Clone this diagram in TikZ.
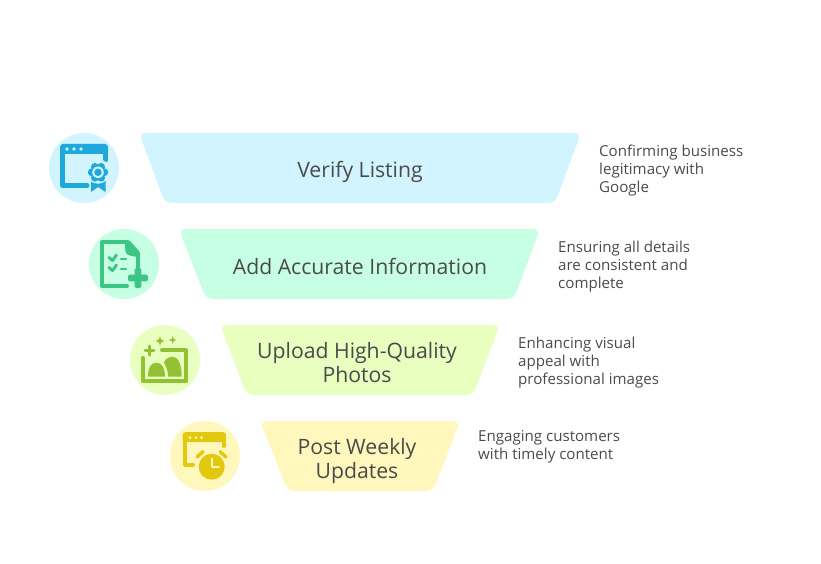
\documentclass[tikz,border=0pt]{standalone}
\usetikzlibrary{calc}
\usepackage{fontspec}
\setmainfont{Open Sans}
\definecolor{txt}{HTML}{4A4A4A}
\definecolor{cA}{HTML}{D1F4FF}\definecolor{iA}{HTML}{1FA8DC}
\definecolor{cB}{HTML}{C7FFE5}\definecolor{iB}{HTML}{3CC583}
\definecolor{cC}{HTML}{E8FFBF}\definecolor{iC}{HTML}{92C233}
\definecolor{cD}{HTML}{FFF7BC}\definecolor{iD}{HTML}{E2C90F}
\tikzset{
 title/.style={text=txt,font=\fontsize{21.2}{24}\selectfont,align=center,anchor=center,inner sep=0pt},
 note/.style={text=txt,font=\fontsize{15.1}{18}\selectfont,align=left,anchor=north west,inner sep=0pt},
 band/.style={rounded corners=7pt},
 ln/.style={line width=5pt,line cap=round,line join=round},
 th/.style={line width=3pt,line cap=round,line join=round},
}
\begin{document}
\begin{tikzpicture}[x=1pt,y=-1pt]
\useasboundingbox (0,0) rectangle (821,564);
% bands
\fill[cA,band] (139,133) -- (581,133) -- (555,203) -- (165,203) -- cycle;
\fill[cB,band] (179,229) -- (540,229) -- (514,299) -- (206,299) -- cycle;
\fill[cC,band] (220,325) -- (500,325) -- (473,395) -- (247,395) -- cycle;
\fill[cD,band] (260,421) -- (460,421) -- (433,491) -- (288,491) -- cycle;
% circles
\fill[cA] (84,168) circle (35);
\fill[cB] (124,264) circle (35);
\fill[cC] (165,360) circle (35);
\fill[cD] (205,456) circle (35);
% labels
\node[title] (t1) at (360,171.5) {Verify Listing};
\node[title] (t2) at (360,266) {Add Accurate Information};
\node[title] (t3) at (357,362.5) {Upload High-Quality\\[0pt]Photos};
\node[title] (t4) at (357,460.5) {Post Weekly\\[0pt]Updates};
\node[note] (n1) at (599,144.5) {Confirming business\\legitimacy with\\Google};
\node[note] (n2) at (558,240.5) {Ensuring all details\\are consistent and\\complete};
\node[note] (n3) at (518,336.5) {Enhancing visual\\appeal with\\professional images};
\node[note] (n4) at (478,430) {Engaging customers\\with timely content};
% icon 1
\draw[iA,ln] (105.5,160) -- (105.5,148) -- (62.5,148) -- (62.5,185.5) -- (87,185.5);
\fill[iA,rounded corners=3pt] (60,144) rectangle (108,154);
\foreach \x in {67,74,81}\fill[cA] (\x,149) circle (1.9);
\fill[cA] (98,172.3) circle (13);
\fill[iA] (91,178) -- (105.5,178) -- (105.5,192) -- (98.2,187) -- (91,192) -- cycle;
\fill[cA] (98,172.3) circle (11.5);
\foreach \a in {0,60,...,300}\fill[iA] ($(98,172.3)+(\a:6.3)$) circle (3.9);
\fill[cA] (98,172.3) circle (5.8);
\fill[iA] (98,172.3) circle (3.7);
% icon 2
\draw[iB,line width=4pt,line cap=round,line join=round] (127,242) -- (102,242) -- (102,286) -- (127,286);
\draw[iB,line width=4pt,line cap=round] (138,268) -- (138,254);
\fill[iB,rounded corners=1.5pt] (125,240) -- (129,240) -- (140,252) -- (140,256.5) -- (133,256.5) -- (126,254) -- (125,248) -- cycle;
\foreach \y in {258,268}{
 \draw[iB,th] (109,\y-0.5) -- (112.5,\y+2.5) -- (116.5,\y-3);
 \draw[iB,th,line width=2.6pt] (121,\y+1) -- (126,\y+1);}
\fill[iB,rounded corners=1.5pt] (128,274.6) rectangle (148,281.4);
\fill[iB,rounded corners=1.5pt] (134.6,268) rectangle (141.4,288);
% icon 3
\draw[iC,line width=4pt,line cap=round,line join=round] (162,350) -- (186,350) -- (186,381) -- (143,381) -- (143,358);
\fill[iC] (148,376.7) .. controls (148,366) and (152,362.7) .. (156.5,362.7) .. controls (161,362.7) and (165,367) .. (165,376.7) -- cycle;
\fill[iC] (168,376.7) .. controls (168,368) and (164,364) .. (164,362) .. controls (166,358) and (170,356.7) .. (172.5,356.7) .. controls (178,356.7) and (181.7,364) .. (181.7,376.7) -- cycle;
\draw[iC,line width=3pt,line cap=round] (145,350.7) -- (154,350.7);
\draw[iC,line width=3pt,line cap=round] (149.5,346.2) -- (149.5,355.2);
\fill[iC] (160,335.5) .. controls (160.5,339.5) and (161.5,340.5) .. (165.2,341) .. controls (161.5,341.5) and (160.5,342.5) .. (160,346.5) .. controls (159.5,342.5) and (158.5,341.5) .. (154.8,341) .. controls (158.5,340.5) and (159.5,339.5) .. (160,335.5) -- cycle;
\fill[iC] (172.7,336) .. controls (173,339) and (173.7,339.7) .. (176.7,340) .. controls (173.7,340.3) and (173,341) .. (172.7,344) .. controls (172.4,341) and (171.7,340.3) .. (168.7,340) .. controls (171.7,339.7) and (172.4,339) .. (172.7,336) -- cycle;
% icon 4
\draw[iD,line width=4pt,line cap=round,line join=round] (224,446) -- (224,436) -- (185,436) -- (185,464.5) -- (193,464.5);
\fill[iD,rounded corners=3pt] (182.7,432) rectangle (226,442);
\foreach \x in {190,196,201.5}\fill[cD] (\x,437.5) circle (1.5);
\fill[iD] (211.7,466.7) circle (13);
\draw[cD,line width=1.8pt,line cap=round,line join=round] (212,458.5) -- (212,467) -- (219,467);
\draw[iD,line width=3.5pt,line cap=round] (197,457) -- (203,451.7);
\draw[iD,line width=3.5pt,line cap=round] (220,451.7) -- (226,457);
\end{tikzpicture}
\end{document}
